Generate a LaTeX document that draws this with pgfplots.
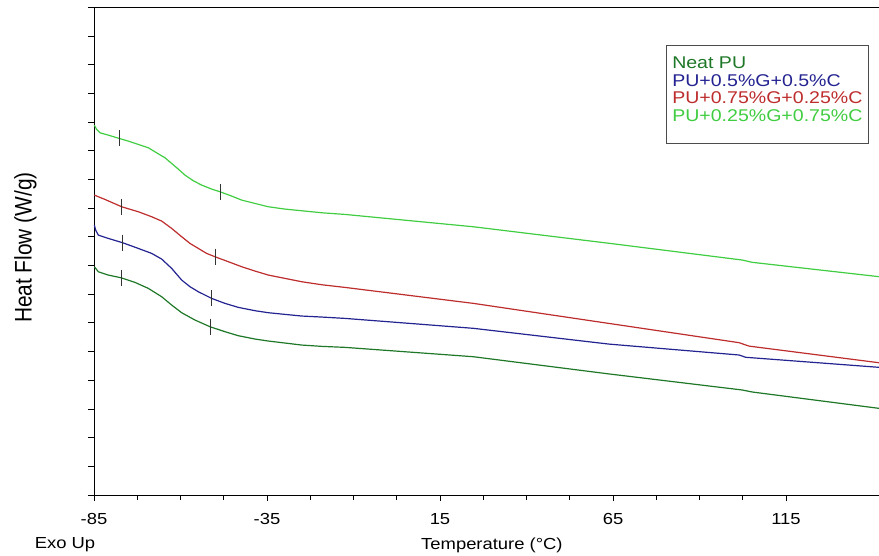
\documentclass[border=0pt]{standalone}
\usepackage{fontspec}
\setmainfont{Liberation Sans}[FakeStretch=1.15]
\newfontfamily\ylabfont{Liberation Sans}[FakeStretch=0.87]
\usepackage{pgfplots}
\pgfplotsset{compat=1.18}
\definecolor{dkgreen}{RGB}{30,120,40}
\definecolor{navyblue}{RGB}{35,35,145}
\definecolor{dred}{RGB}{190,45,45}
\definecolor{lgreen}{RGB}{65,205,65}
\begin{document}
\begin{tikzpicture}
\begin{axis}[
  name=ax, at={(0,0)}, anchor=south west,
  scale only axis, width=795.8bp, height=487.7bp,
  xmin=-85, xmax=145, ymin=0, ymax=17,
  xtick={-85,-35,15,65,115}, minor x tick num=3,
  ytick={0,...,17}, yticklabels={},
  xtick pos=lower, ytick pos=lower, tick align=outside,
  major tick length=6bp, minor tick length=5bp,
  tick style={black, line width=0.8bp},
  axis line style={black, line width=0.8bp},
  /pgf/number format/assume math mode=true,
  ticklabel style={font=\fontsize{16bp}{19bp}\selectfont},
  xticklabel style={anchor=base, yshift=-23bp},
  xlabel={Temperature (°C)},
  xlabel style={font=\fontsize{16bp}{19bp}\selectfont, at={(axis description cs:0.5,0)}, anchor=base, yshift=-54bp},
  ylabel={Heat Flow (W/g)},
  ylabel style={font=\ylabfont\fontsize{24bp}{28bp}\selectfont, at={(axis description cs:-0.0783,0.5075)}, anchor=base},
  legend image code/.code={},
  legend cell align=left,
  legend style={at={(0.7186,0.922)}, anchor=north west, draw=black!70, line width=0.8bp,
    inner xsep=6bp, inner ysep=11bp, font=\fontsize{17bp}{17.6bp}\selectfont, row sep=0pt,
    nodes={inner sep=0pt, text height=12bp, text depth=5.6bp}},
  every axis plot/.append style={line width=1.2bp, line join=round},
]
% Neat PU
\addplot[dkgreen] coordinates {
(-84.90,7.956) (-83.75,7.782) (-80.86,7.666) (-77.20,7.573) (-73.15,7.411) (-69.30,7.202)
(-65.44,6.911) (-62.55,6.621) (-59.66,6.354) (-55.81,6.098) (-51.48,5.866) (-47.14,5.692)
(-43.29,5.552) (-38.47,5.436) (-34.61,5.367) (-29.80,5.297) (-24.98,5.227) (-19.20,5.181)
(-12.46,5.146) (24.63,4.82) (63.85,4.22) (102.37,3.66) (105.26,3.59) (141.9,3.02)};
\addlegendentry{\textcolor{dkgreen}{Neat PU}}
% PU+0.5%G+0.5%C
\addplot[navyblue] coordinates {
(-84.90,9.408) (-84.52,9.234) (-83.75,9.060) (-80.86,8.944) (-76.72,8.793) (-72.19,8.595)
(-68.33,8.421) (-65.44,8.224) (-62.55,7.898) (-59.66,7.492) (-57.25,7.260) (-54.85,7.085)
(-50.99,6.853) (-47.14,6.679) (-43.29,6.540) (-38.47,6.424) (-34.61,6.354) (-29.80,6.296)
(-24.98,6.238) (-19.20,6.203) (-12.46,6.156) (24.63,5.81) (63.85,5.26) (101.42,4.88)
(103.35,4.80) (141.9,4.45)};
\addlegendentry{\textcolor{navyblue}{PU+0.5\%G+0.5\%C}}
% PU+0.75%G+0.25%C
\addplot[dred] coordinates {
(-84.90,10.453) (-81.82,10.302) (-77.00,10.047) (-72.19,9.873) (-68.33,9.699) (-65.44,9.548)
(-62.55,9.292) (-59.66,9.002) (-57.25,8.769) (-54.85,8.595) (-52.44,8.421) (-50.03,8.305)
(-46.17,8.131) (-42.32,7.957) (-38.47,7.806) (-34.61,7.666) (-29.80,7.550) (-24.98,7.434)
(-19.20,7.329) (-12.46,7.236) (24.63,6.68) (63.85,5.98) (101.42,5.31) (104.3,5.19) (141.9,4.61)};
\addlegendentry{\textcolor{dred}{PU+0.75\%G+0.25\%C}}
% PU+0.25%G+0.75%C
\addplot[lgreen] coordinates {
(-84.90,12.892) (-84.23,12.741) (-83.27,12.625) (-80.86,12.544) (-77.68,12.428) (-75.08,12.335)
(-72.19,12.219) (-69.30,12.103) (-66.89,11.928) (-64.48,11.754) (-62.55,11.557) (-60.63,11.359)
(-58.70,11.150) (-56.29,10.953) (-53.88,10.802) (-50.99,10.663) (-48.58,10.570) (-45.21,10.419)
(-42.32,10.279) (-38.47,10.163) (-34.61,10.047) (-29.80,9.966) (-24.98,9.908) (-19.20,9.838)
(-12.46,9.780) (24.63,9.35) (64.13,8.77) (102.37,8.19) (105.26,8.11) (141.9,7.61)};
\addlegendentry[text depth=11bp]{\textcolor{lgreen}{PU+0.25\%G+0.75\%C}}
% transition markers
\addplot[forget plot, only marks, mark=|, mark size=8bp, mark options={black!80, line width=0.8bp}] coordinates {
(-77.68,12.428) (-48.58,10.570) (-77.00,10.047) (-50.03,8.305)
(-76.72,8.793) (-50.99,6.853) (-77.20,7.573) (-51.48,5.866)};
\end{axis}
\node[anchor=base west, inner sep=0pt, font=\fontsize{16bp}{19bp}\selectfont] at ([xshift=-59.3bp,yshift=-53bp]ax.south west) {Exo Up};
\pgfresetboundingbox
\path[use as bounding box] ([shift={(-94bp,-61bp)}]ax.south west) rectangle ([shift={(785bp,7.3bp)}]ax.north west);
\end{tikzpicture}
\end{document}
